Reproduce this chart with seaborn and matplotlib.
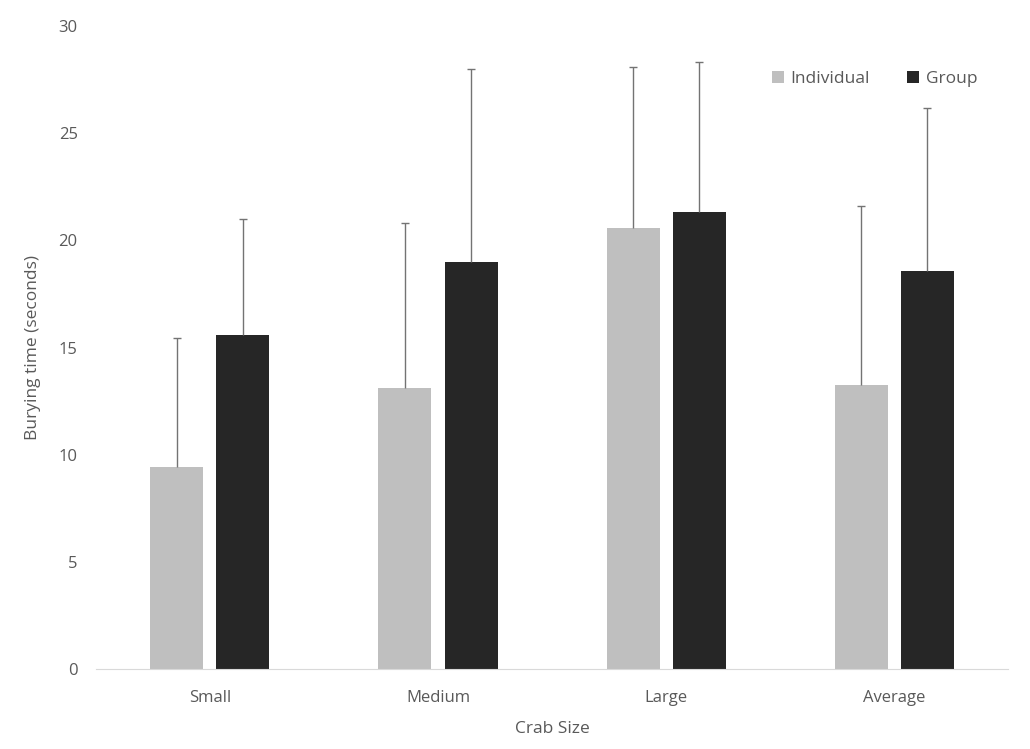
import pandas as pd
import seaborn as sns
import matplotlib.pyplot as plt

# values
sizes = ['Small', 'Medium', 'Large', 'Average']
individual_mean = [9.4, 13.1, 20.6, 13.25]
individual_err = [6.05, 7.7, 7.5, 8.35]
group_mean = [15.6, 19.0, 21.35, 18.55]
group_err = [5.4, 9.0, 7.0, 7.65]

df = pd.DataFrame({
    'Crab Size': sizes * 2,
    'Burying time (seconds)': individual_mean + group_mean,
    'err': individual_err + group_err,
    'Treatment': ['Individual'] * 4 + ['Group'] * 4,
})

sns.set_style('white')
plt.rcParams['font.family'] = ['Open Sans', 'DejaVu Sans']
text_col = '#595959'

fig, ax = plt.subplots(figsize=(10.3, 7.49), dpi=100)
fig.subplots_adjust(left=0.093, right=0.979, top=0.965, bottom=0.107)

sns.barplot(data=df, x='Crab Size', y='Burying time (seconds)', hue='Treatment',
            palette=['#bfbfbf', '#262626'], width=0.58, gap=0.2,
            errorbar=None, ax=ax, saturation=1, linewidth=0)

# upper-only error bars, placed from the bar patches
bars = [p for p in ax.patches if p.get_height() > 0]
bars.sort(key=lambda p: p.get_x())
order = []
for i in range(len(sizes)):
    order.append((individual_mean[i], individual_err[i]))
    order.append((group_mean[i], group_err[i]))
for p, (m, e) in zip(bars, order):
    xc = p.get_x() + p.get_width() / 2
    ax.vlines(xc, m, m + e, color='#737373', lw=1, zorder=3)
    ax.hlines(m + e, xc - 0.018, xc + 0.018, color='#737373', lw=1, zorder=3)

ax.set_ylim(0, 30)
ax.set_xlim(-0.5, 3.5)
ax.set_yticks(range(0, 31, 5))
for s in ['top', 'right', 'left']:
    ax.spines[s].set_visible(False)
ax.spines['bottom'].set_color('#d9d9d9')
ax.tick_params(axis='both', length=0, labelsize=12, labelcolor=text_col)
ax.tick_params(axis='y', pad=13)
ax.tick_params(axis='x', pad=15)
ax.set_xlabel('Crab Size', fontsize=12.5, color=text_col, labelpad=11)
ax.set_ylabel('Burying time (seconds)', fontsize=12.5, color=text_col, labelpad=13)

ax.legend(title=None, frameon=False, ncol=2, loc='upper right',
          bbox_to_anchor=(0.983, 0.955), fontsize=12.5, labelcolor=text_col,
          handlelength=0.7, handleheight=0.7, columnspacing=2.1, handletextpad=0.4)

plt.savefig('out.png', dpi=100)
